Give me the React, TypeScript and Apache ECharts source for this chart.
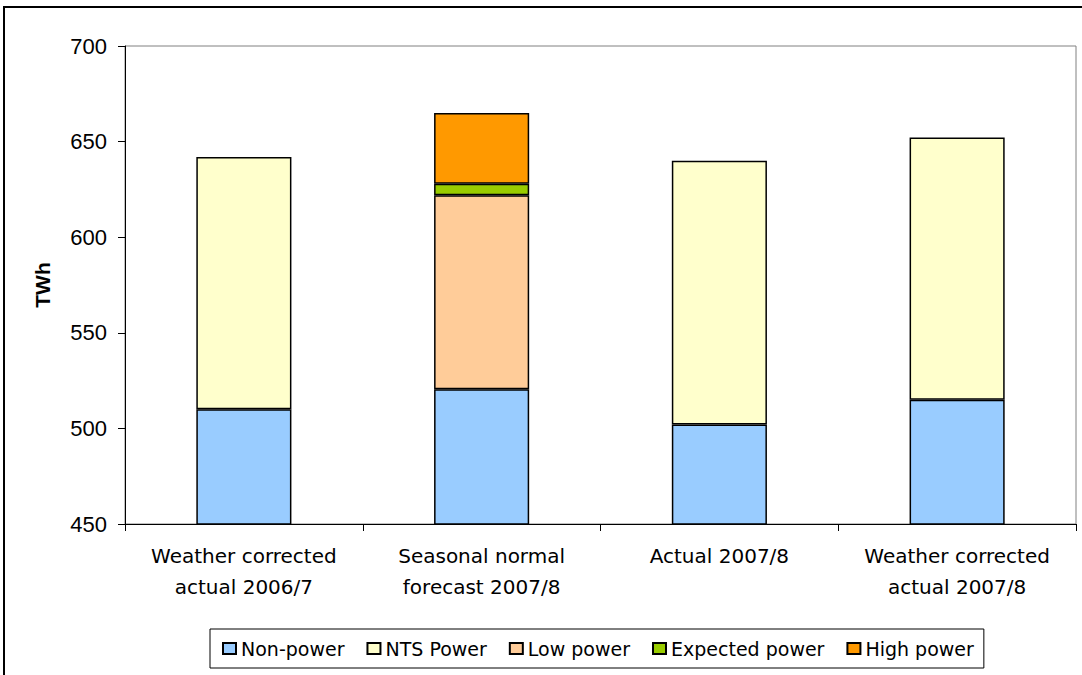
import React, { useEffect, useRef } from "react";
import * as echarts from "echarts";

const categories = [
  "Weather corrected\nactual 2006/7",
  "Seasonal normal\nforecast 2007/8",
  "Actual 2007/8",
  "Weather corrected\nactual 2007/8",
];
const nonPower = [510, 520.5, 502, 515];
const ntsPower: (number | string)[] = [132, "-", 138, 137.2];
const lowPower: (number | string)[] = ["-", 101.5, "-", "-"];
const expectedPower: (number | string)[] = ["-", 6, "-", "-"];
const highPower: (number | string)[] = ["-", 37, "-", "-"];

const seriesNames = ["Non-power", "NTS Power", "Low power", "Expected power", "High power"];
const seriesColors = ["#99CCFF", "#FFFFCC", "#FFCC99", "#99CC00", "#FF9900"];
const seriesData = [nonPower, ntsPower, lowPower, expectedPower, highPower];

export default function App() {
  const ref = useRef<HTMLDivElement>(null);
  useEffect(() => {
    if (!ref.current) return;
    const chart = echarts.init(ref.current, null, { renderer: "svg" });
    chart.setOption({
      animation: false,
      backgroundColor: "#ffffff",
      graphic: [
        {
          type: "rect",
          shape: { x: 4, y: 7, width: 1100, height: 700 },
          style: { fill: "none", stroke: "#000", lineWidth: 2 },
          silent: true,
        },
      ],
      grid: {
        left: 125,
        right: 6,
        top: 46,
        bottom: 151,
        show: true,
        borderColor: "#808080",
        borderWidth: 1,
        backgroundColor: "transparent",
      },
      legend: {
        left: 210,
        top: 629,
        orient: "horizontal",
        data: seriesNames,
        icon: "rect",
        itemWidth: 13,
        itemHeight: 11,
        itemGap: 22,
        padding: [10, 10, 10, 12],
        borderColor: "#000",
        borderWidth: 1,
        textStyle: { fontFamily: "DejaVu Sans", fontSize: 19, color: "#000" },
      },
      xAxis: {
        type: "category",
        data: categories,
        axisLine: { lineStyle: { color: "#000", width: 1 } },
        axisTick: { show: true, length: 7, lineStyle: { color: "#000" }, alignWithLabel: false },
        axisLabel: {
          fontFamily: "DejaVu Sans",
          fontSize: 20,
          color: "#000",
          lineHeight: 31,
          margin: 16,
          interval: 0,
        },
        splitLine: { show: false },
      },
      yAxis: {
        type: "value",
        min: 450,
        max: 700,
        interval: 50,
        name: "TWh",
        nameLocation: "middle",
        nameRotate: 90,
        nameGap: 72,
        nameTextStyle: { fontFamily: "Liberation Sans", fontSize: 21, fontWeight: "bold", color: "#000" },
        axisLine: { show: true, lineStyle: { color: "#000", width: 1 } },
        axisTick: { show: true, length: 7, lineStyle: { color: "#000" } },
        axisLabel: { fontFamily: "Liberation Sans", fontSize: 22, color: "#000", margin: 18 },
        splitLine: { show: false },
      },
      series: seriesNames.map((name, i) => ({
        name,
        type: "bar",
        stack: "total",
        barWidth: "40%",
        data: seriesData[i],
        itemStyle: { color: seriesColors[i], borderColor: "#000", borderWidth: 1.5 },
      })),
    });
    return () => chart.dispose();
  }, []);
  return (
    <div
      ref={ref}
      style={{ position: "fixed", left: 0, top: 0, width: 1082, height: 675, background: "#fff" }}
    />
  );
}
